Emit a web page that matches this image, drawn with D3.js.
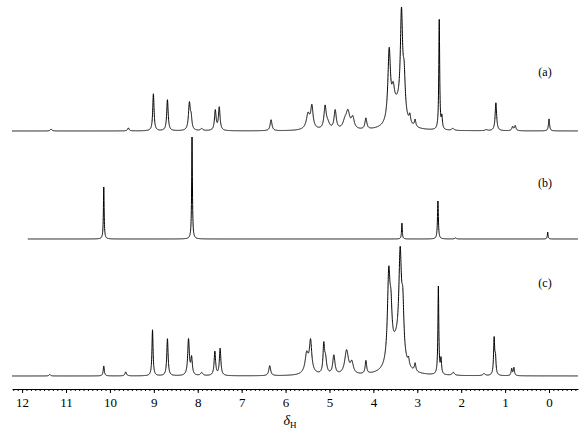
<!DOCTYPE html>
<html>
<head>
<meta charset="utf-8">
<script src="https://cdn.jsdelivr.net/npm/d3@7"></script>
<style>
  body { margin: 0; background: #fff; }
  svg text { font-family: "Times New Roman", "Liberation Serif", Times, serif; fill: #000; }
</style>
</head>
<body>
<svg id="chart" width="583" height="433"></svg>
<script>
// peak lists: [shift (ppm), intensity, half width (ppm)]
const peaksA = [
  [11.34, 2, 0.02], [9.58, 3, 0.02], [9.01, 37, 0.018], [8.69, 31, 0.02],
  [8.19, 27, 0.025], [8.15, 11, 0.02], [7.91, 2, 0.03],
  [7.60, 20, 0.022], [7.51, 23, 0.022], [6.33, 11, 0.025],
  [5.49, 12, 0.04], [5.40, 20, 0.03], [5.45, 5, 0.1],
  [5.10, 22, 0.03], [5.04, 6, 0.05], [4.87, 19, 0.03],
  [4.65, 7, 0.05], [4.58, 17, 0.05], [4.47, 11, 0.04], [4.17, 11, 0.025],
  [3.64, 70, 0.035], [3.55, 22, 0.04], [3.45, 22, 0.15], [3.36, 98, 0.03],
  [3.30, 38, 0.03], [3.17, 8, 0.02], [3.05, 7, 0.02],
  [2.50, 110, 0.012], [2.44, 12, 0.015], [2.19, 2, 0.03],
  [1.43, 1, 0.03], [1.21, 28, 0.02], [0.83, 4, 0.02], [0.77, 5, 0.02],
  [0.00, 12, 0.015]
];
const peaksB = [
  [10.14, 52, 0.01], [8.13, 102, 0.01], [3.35, 16, 0.01],
  [2.53, 38, 0.012], [2.13, 1, 0.02], [0.03, 7, 0.01]
];
const peaksC = [
  [11.37, 1.5, 0.02], [10.14, 10, 0.015], [9.64, 4, 0.02], [9.03, 46, 0.015],
  [8.69, 37, 0.018], [8.21, 36, 0.022], [8.14, 17, 0.02], [7.91, 3, 0.03],
  [7.61, 24, 0.02], [7.49, 27, 0.02], [6.36, 10, 0.025],
  [5.52, 16, 0.04], [5.43, 28, 0.03], [5.47, 7, 0.1],
  [5.13, 27, 0.02], [5.09, 15, 0.03], [4.90, 19, 0.03],
  [4.61, 24, 0.05], [4.49, 11, 0.04], [4.17, 13, 0.02],
  [3.65, 85, 0.035], [3.60, 38, 0.03], [3.48, 28, 0.15], [3.39, 97, 0.035],
  [3.33, 48, 0.03], [3.20, 7, 0.02], [3.05, 8, 0.02],
  [2.52, 88, 0.012], [2.46, 15, 0.015], [2.18, 3, 0.03], [1.48, 2, 0.03],
  [1.25, 36, 0.015], [1.22, 16, 0.015], [0.85, 7, 0.015], [0.80, 8, 0.015]
];
const spectra = [
  { name: "(a)", peaks: peaksA, start: 12.23, base: 131, labelY: 72 },
  { name: "(b)", peaks: peaksB, start: 11.87, base: 239, labelY: 183 },
  { name: "(c)", peaks: peaksC, start: 12.23, base: 376, labelY: 283 }
];
const majorTicks = [12, 11, 10, 9, 8, 7, 6, 5, 4, 3, 2, 1, 0];

const svg = d3.select("#chart");

const x = d3.scaleLinear().domain([12.23, -0.66]).range([12, 578]);

function lorentz(peaks, s) {
  let v = 0;
  peaks.forEach(p => {
    const t = (s - p[0]) / p[2];
    v += p[1] / (1 + t * t);
  });
  return v;
}

spectra.forEach(sp => {
  const y = d3.scaleLinear().domain([0, 130]).range([sp.base, sp.base - 130]);
  const pts = d3.range(sp.start, -0.66, -0.002).map(s => [s, lorentz(sp.peaks, s)]);
  const line = d3.line().x(d => x(d[0])).y(d => y(d[1]));
  svg.append("path")
    .attr("d", line(pts))
    .attr("fill", "none")
    .attr("stroke", "#000")
    .attr("stroke-width", 1);
  svg.append("text")
    .attr("x", 545).attr("y", sp.labelY + 4)
    .attr("text-anchor", "middle")
    .style("font-size", "12px")
    .text(sp.name);
});

// axis
const axisY = 389;
svg.append("g")
  .attr("transform", `translate(0,${axisY})`)
  .call(d3.axisBottom(x).tickValues(d3.range(12.2, -0.65, -0.1).map(d => +d.toFixed(1)))
    .tickSize(2).tickSizeOuter(0).tickFormat(""))
  .call(g => g.select(".domain").attr("stroke", "#000"));
svg.append("g")
  .attr("transform", `translate(0,${axisY})`)
  .call(d3.axisBottom(x).tickValues(majorTicks).tickSize(4).tickSizeOuter(0).tickPadding(5))
  .call(g => g.select(".domain").remove())
  .call(g => g.selectAll("text")
    .attr("font-family", null)
    .style("font-family", "'Times New Roman', 'Liberation Serif', serif")
    .style("font-size", "13px"));

const lab = svg.append("text")
  .attr("x", 290).attr("y", 425)
  .attr("text-anchor", "middle")
  .style("font-size", "14px");
lab.append("tspan").style("font-style", "italic").text("δ");
lab.append("tspan").attr("dy", 3).style("font-size", "9px").text("H");
</script>
</body>
</html>
